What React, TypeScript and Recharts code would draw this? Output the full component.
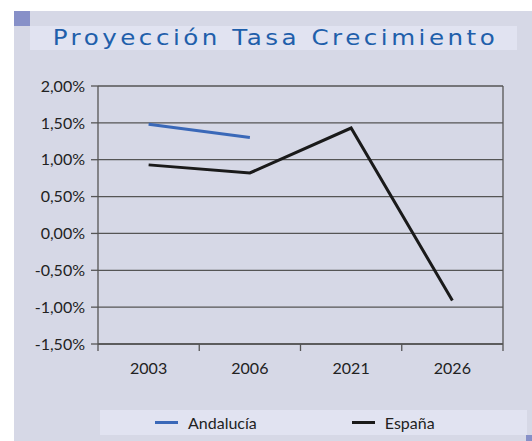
import React from 'react';
import { LineChart, Line, XAxis, YAxis, CartesianGrid, Legend } from 'recharts';

const years = ['2003', '2006', '2021', '2026'];
const andalucia = [1.48, 1.30, null, null];
const espana = [0.93, 0.82, 1.43, -0.91];
const yTicks = [-1.5, -1.0, -0.5, 0, 0.5, 1.0, 1.5, 2.0];

const data = years.map((y, i) => ({ year: y, Andalucía: andalucia[i], España: espana[i] }));

// category slot index: each year sits in the middle of its own slot
const slot = (d: any) => years.indexOf(d.year) + 0.5;
const centerTicks = years.map((_, i) => i + 0.5);
const boundaryTicks = [...years.map((_, i) => i), years.length];

const FONT = 'Lato, "Open Sans", sans-serif';
const fmt = (v: number) => v.toFixed(2).replace('.', ',') + '%';

const LegendContent = (props: any) => {
  const items = props.payload || [];
  const gaps = [55, 95];
  return (
    <div style={{ display: 'flex', alignItems: 'center', height: 25, fontFamily: FONT, fontSize: 16, color: '#222' }}>
      {items.map((it: any, i: number) => (
        <div key={it.value} style={{ display: 'flex', alignItems: 'center', marginLeft: gaps[i] }}>
          <div style={{ width: 23, height: 3, background: it.color, marginRight: 10 }} />
          <span>{it.value}</span>
        </div>
      ))}
    </div>
  );
};

export default function App() {
  return (
    <div style={{ position: 'absolute', left: 0, top: 0, width: 532, height: 441, background: '#fff', overflow: 'hidden' }}>
      <div style={{ position: 'absolute', left: 14, top: 11, width: 518, height: 430, background: '#d6d8e6' }} />
      <div style={{ position: 'absolute', left: 14, top: 11, width: 16, height: 15, background: '#8790c8' }} />
      <div style={{ position: 'absolute', left: 30, top: 26, width: 487, height: 24, background: '#e1e3f1' }} />
      <div style={{ position: 'absolute', left: 100, top: 410, width: 427, height: 25, background: '#e1e3f1' }} />
      <div style={{ position: 'absolute', left: 526, top: 435, width: 6, height: 6, background: '#8790c8' }} />
      <div style={{ position: 'absolute', left: 32, top: 26, width: 487, height: 24, display: 'flex', alignItems: 'center', justifyContent: 'center', fontFamily: '"DejaVu Sans", sans-serif', fontSize: 21, letterSpacing: 3, color: '#1f5fab', transform: 'scaleX(1.17)', transformOrigin: '50% 50%', whiteSpace: 'nowrap' }}>
        Proyección Tasa Crecimiento
      </div>
      <div style={{ position: 'absolute', left: 0, top: 0 }}>
        <LineChart width={532} height={441} data={data} margin={{ top: 86, right: 28, bottom: 66, left: 30 }}>
          <CartesianGrid vertical={false} stroke="#555" strokeWidth={1.3} />
          <XAxis xAxisId="a" type="number" dataKey={slot} domain={[0, 4]} ticks={boundaryTicks} height={1} axisLine={{ stroke: '#555', strokeWidth: 1.3 }} tickLine={{ stroke: '#555', strokeWidth: 1.3 }} tickSize={7} tickFormatter={() => ''} interval={0} />
          <XAxis xAxisId="b" type="number" dataKey={slot} domain={[0, 4]} ticks={centerTicks} height={30} axisLine={false} tickLine={false} tickSize={0} tickMargin={18} tickFormatter={(v: number) => years[Math.floor(v)]} tick={{ fill: '#222', fontSize: 16, fontFamily: FONT }} interval={0} />
          <YAxis domain={[-1.5, 2.0]} ticks={yTicks} width={68} axisLine={{ stroke: '#555', strokeWidth: 1.3 }} tickLine={{ stroke: '#555', strokeWidth: 1.3 }} tickSize={7} tickMargin={6} tickFormatter={fmt} tick={{ fill: '#222', fontSize: 16, fontFamily: FONT }} />
          <YAxis yAxisId="r" orientation="right" width={1} domain={[-1.5, 2.0]} tick={false} tickLine={false} axisLine={{ stroke: '#555', strokeWidth: 1.3 }} />
          <Legend layout="horizontal" verticalAlign="middle" align="center" content={<LegendContent />} wrapperStyle={{ position: 'absolute', left: 100, top: 410, width: 427, height: 25 }} />
          <Line xAxisId="b" dataKey="Andalucía" stroke="#3a68b8" strokeWidth={3} dot={false} isAnimationActive={false} connectNulls={false} />
          <Line xAxisId="b" dataKey="España" stroke="#1a1a1a" strokeWidth={3} dot={false} isAnimationActive={false} />
        </LineChart>
      </div>
    </div>
  );
}
